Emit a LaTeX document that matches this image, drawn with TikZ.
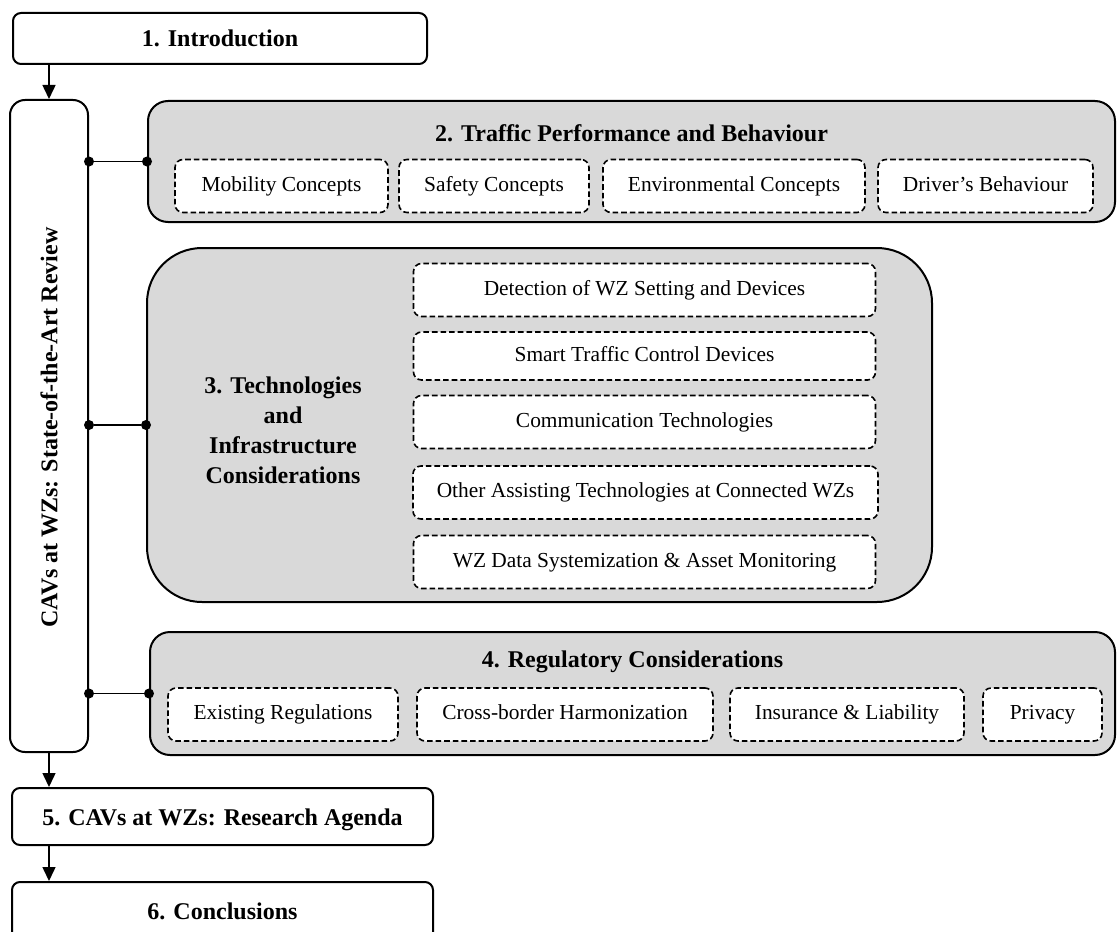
\documentclass[tikz,border=0pt]{standalone}
\usepackage{fontspec}
\setmainfont{Liberation Serif}
\usetikzlibrary{arrows.meta}
\definecolor{grp}{gray}{0.85}

\tikzset{
	box/.style={draw, line width=1pt, rounded corners=4pt, fill=white, inner sep=0pt, text height=10.5pt, text depth=2pt, font=\fontsize{12}{15}\selectfont\bfseries},
	grpbox/.style={draw, line width=1pt, fill=grp, inner sep=0pt},
	title/.style={font=\fontsize{12}{15}\selectfont\bfseries, inner sep=0pt},
	subbox/.style={draw, line width=0.8pt, dash pattern=on 2.8pt off 1.5pt, rounded corners=4pt, fill=white, inner sep=0pt, minimum height=26.5pt, text height=7.5pt, text depth=2.2pt, font=\fontsize{10.7}{13}\selectfont},
	dot/.style={circle, fill, inner sep=0pt, minimum size=5pt},
	arr/.style={line width=0.75pt, -{Triangle[length=7pt, width=6.5pt]}},
	conn/.style={line width=0.75pt}
}

\begin{document}
\begin{tikzpicture}[x=0.5pt, y=-0.5pt]
	\clip (0, 0) rectangle (1117, 931);
	\fill[white] (0, 0) rectangle (1117, 931);

	\node[box, minimum width=207pt, minimum height=25.5pt] (intro) at (220, 38.5) {1. Introduction};
	\node[box, rounded corners=7.5pt, minimum width=39pt, minimum height=326pt] (review) at (49, 426) {};
	\node[title, rotate=90] (reviewtxt) at (49, 427.5) {CAVs at WZs: State-of-the-Art Review};
	\draw[arr] (intro.south -| review.north) -- (review.north);

	\node[grpbox, rounded corners=10pt, minimum width=483.5pt, minimum height=60.5pt] (traffic) at (631.5, 161.5) {};
	\node[title] (traffictxt) at (631.5, 133) {2. Traffic Performance and Behaviour};
	\node[subbox, minimum width=106.5pt] (mob) at (281.5, 186) {Mobility Concepts};
	\node[subbox, minimum width=95pt] (saf) at (494, 186) {Safety Concepts};
	\node[subbox, minimum width=131pt] (env) at (734, 186) {Environmental Concepts};
	\node[subbox, minimum width=107.5pt] (drv) at (985.5, 186) {Driver's Behaviour};
	\node[dot] (trafficd1) at (review.east |- traffic.west) {};
	\node[dot] (trafficd2) at (traffic.west) {};
	\draw[conn] (trafficd1) -- (trafficd2);

	\node[grpbox, rounded corners=27.5pt, minimum width=392.5pt, minimum height=177pt] (tech) at (539.5, 425) {};
	\node[title, align=center] (techtxt) at (283, 430) {3. Technologies\\and\\Infrastructure\\Considerations};
	\node[subbox, minimum width=231pt] (det) at (644.5, 290) {Detection of WZ Setting and Devices};
	\node[subbox, minimum width=231pt, minimum height=24pt] (stcd) at (644.5, 356) {Smart Traffic Control Devices};
	\node[subbox, minimum width=231pt] (comm) at (644.5, 422) {Communication Technologies};
	\node[subbox, minimum width=232.5pt] (oat) at (645.5, 492.5) {Other Assisting Technologies at Connected WZs};
	\node[subbox, minimum width=231pt] (wzd) at (644.5, 562) {WZ Data Systemization \& Asset Monitoring};
	\node[dot] (techd1) at (review.east |- tech.west) {};
	\node[dot] (techd2) at (tech.west) {};
	\draw[conn] (techd1) -- (techd2);

	\node[grpbox, rounded corners=10pt, minimum width=482.5pt, minimum height=61.5pt] (reg) at (632.5, 693.5) {};
	\node[title] (regtxt) at (632.5, 662) {4. Regulatory Considerations};
	\node[subbox, minimum width=115pt] (exr) at (283, 714.5) {Existing Regulations};
	\node[subbox, minimum width=148pt] (cbh) at (565, 714.5) {Cross-border Harmonization};
	\node[subbox, minimum width=117pt] (ins) at (847, 714.5) {Insurance \& Liability};
	\node[subbox, minimum width=59.5pt] (prv) at (1042.5, 714.5) {Privacy};
	\node[dot] (regd1) at (review.east |- reg.west) {};
	\node[dot] (regd2) at (reg.west) {};
	\draw[conn] (regd1) -- (regd2);

	\node[box, minimum width=210.5pt, minimum height=28.5pt] (agenda) at (222.5, 816.5) {5. CAVs at WZs: Research Agenda};
	\draw[arr] (review.south) -- (review.south |- agenda.north);
	\node[box, minimum width=210.5pt, minimum height=29pt] (concl) at (222.5, 911) {6. Conclusions};
	\draw[arr] (agenda.south -| review.north) -- (concl.north -| review.north);
\end{tikzpicture}
\end{document}
